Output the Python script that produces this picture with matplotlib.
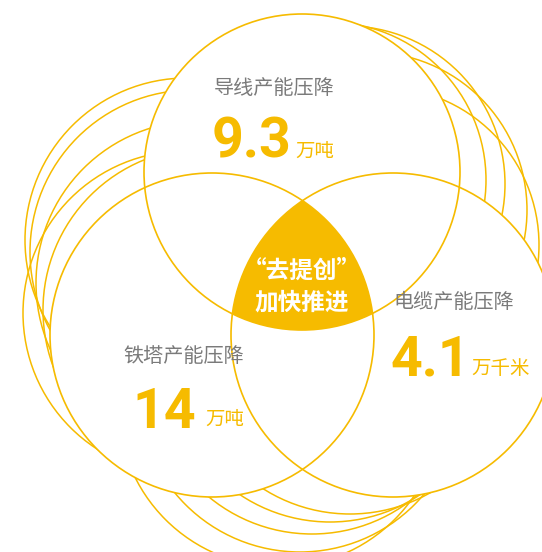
import matplotlib
matplotlib.use("Agg")
import matplotlib.pyplot as plt
from matplotlib.patches import Circle, Polygon
import numpy as np

plt.rcParams['font.family'] = ['Noto Sans CJK SC', 'DejaVu Sans']

# 数据
labels = ['导线产能压降', '电缆产能压降', '铁塔产能压降']
values = ['9.3', '4.1', '14']
units = ['万吨', '万千米', '万吨']
center_text = ['“去提创”', '加快推进']

YEL = '#F6BB00'
GRAY = '#7a7a7a'

fig = plt.figure(figsize=(5.42, 5.52), dpi=100)
ax = fig.add_axes([0, 0, 1, 1])
ax.set_xlim(0, 542)
ax.set_ylim(552, 0)
ax.set_aspect('equal')
ax.axis('off')

# 三个主圆 (上, 右, 左)
main = [(302, 172, 158), (393, 335, 162), (212, 335, 162)]

# 背后的波纹圆
echoes = [
    # 上圆
    (328, 180, 158), (347, 184, 158), (369, 210, 158), (381, 245, 158),
    # 左圆
    (187, 240, 162), (192, 252, 162), (198, 283, 162), (205, 310, 162), (185, 313, 162),
    # 下方
    (300, 390, 162), (312, 372, 162), (330, 360, 162), (280, 405, 162), (350, 352, 162),
]

for cx, cy, r in echoes:
    ax.add_patch(Circle((cx, cy), r, fill=False, ec=YEL, lw=1.1, zorder=1))

for cx, cy, r in main:
    ax.add_patch(Circle((cx, cy), r, fc='white', ec='none', zorder=2))

# 三圆交集
pts = []
t = np.linspace(0, 2 * np.pi, 3000)
for i, (cx, cy, r) in enumerate(main):
    x = cx + r * np.cos(t)
    y = cy + r * np.sin(t)
    ok = np.ones_like(t, dtype=bool)
    for j, (ox, oy, orr) in enumerate(main):
        if j != i:
            ok &= (x - ox) ** 2 + (y - oy) ** 2 <= orr ** 2
    pts.append(np.column_stack([x[ok], y[ok]]))
pts = np.vstack(pts)
m = pts.mean(axis=0)
order = np.argsort(np.arctan2(pts[:, 1] - m[1], pts[:, 0] - m[0]))
ax.add_patch(Polygon(pts[order], closed=True, fc=YEL, ec='none', zorder=3))

for cx, cy, r in main:
    ax.add_patch(Circle((cx, cy), r, fill=False, ec=YEL, lw=1.2, zorder=4))

# 文字
digit_font = ['Roboto', 'DejaVu Sans']
lab_pos = [(274, 88), (454, 302), (184, 357)]
val_pos = [(212, 158), (391, 375), (132, 428)]
unit_pos = [(295, 151), (471, 368), (205, 419)]
for i in range(3):
    ax.text(*lab_pos[i], labels[i], ha='center', va='center', fontsize=14.5,
            color=GRAY, zorder=5)
    ax.text(*val_pos[i], values[i], ha='left', va='baseline', fontsize=40,
            color=YEL, family=digit_font, fontweight='bold', zorder=5)
    ax.text(*unit_pos[i], units[i], ha='left', va='center', fontsize=14,
            color=YEL, zorder=5)

ax.text(302, 271, center_text[0], ha='center', va='center', fontsize=17,
        color='white', fontweight='bold', zorder=5)
ax.text(302, 303, center_text[1], ha='center', va='center', fontsize=17,
        color='white', fontweight='bold', zorder=5)

plt.savefig('out.png', dpi=100)
